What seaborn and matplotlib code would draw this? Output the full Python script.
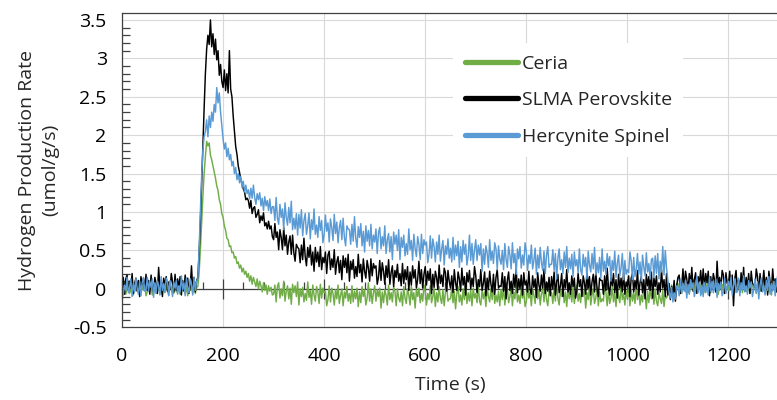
import numpy as np
import pandas as pd
import matplotlib
matplotlib.use("Agg")
import matplotlib.pyplot as plt
import seaborn as sns
from matplotlib.lines import Line2D
from matplotlib.ticker import MultipleLocator

# ---------------- data (one value every 2.5 s) ----------------
TIME_STEP = 2.5  # s

ceria = [
    # 0-147.5 s
    0.05, -0.03, 0.08, -0.07, 0.02, 0.06, -0.06, -0.01, 0.07, -0.08, 0.03, -0.02, 0.1, -0.05, 0.01, -0.06, 0.06, -0.02, 0.04, -0.09,
    -0.04, 0.07, -0.02, 0.03, -0.08, 0.06, 0.01, -0.06, 0.09, -0.02, 0.05, -0.07, 0.02, 0.06, -0.05, 0.08, -0.03, -0.08, 0.04, 0.02,
    0.02, -0.06, 0.06, -0.04, 0.1, -0.02, -0.07, 0.05, -0.01, 0.07, -0.06, 0.03, -0.09, 0.06, -0.02, 0.04, -0.05, 0.08, -0.06, 0.02,
    # 150-297.5 s
    0.03, 0.2, 0.5, 0.85, 1.2, 1.5, 1.72, 1.92, 1.86, 1.9, 1.74, 1.68, 1.6, 1.52, 1.44, 1.34, 1.28, 1.16, 1.1, 0.98,
    0.93, 0.82, 0.76, 0.66, 0.64, 0.55, 0.56, 0.47, 0.48, 0.4, 0.42, 0.33, 0.35, 0.27, 0.31, 0.22, 0.27, 0.19, 0.23, 0.15,
    0.2, 0.1, 0.17, 0.06, 0.15, 0.09, 0.03, 0.13, 0.0, 0.1, 0.04, -0.04, 0.08, -0.02, 0.05, -0.07, 0.04, -0.03, 0.02, -0.08,
    # 300-1047.5 s
    -0.07, 0.05, -0.17, 0.03, 0.08, -0.12, 0.0, -0.09, 0.1, -0.16, -0.03, 0.04, -0.13, 0.01, -0.2, 0.06, -0.05, 0.04, -0.1, 0.09,
    -0.21, 0.0, -0.1, 0.02, -0.17, -0.06, -0.15, 0.09, -0.11, -0.02, -0.2, 0.05, -0.08, -0.16, 0.03, -0.04, -0.19, 0.06, -0.12, 0.01,
    -0.05, -0.03, -0.22, -0.14, 0.04, -0.17, 0.01, -0.06, -0.21, -0.01, -0.13, 0.05, -0.19, -0.08, 0.0, -0.22, -0.04, -0.12, 0.03, -0.16,
    -0.06, -0.19, 0.04, -0.17, -0.03, -0.13, 0.01, -0.23, -0.04, -0.18, 0.03, -0.1, -0.01, -0.21, -0.12, 0.08, -0.16, 0.0, -0.19, -0.05,
    0.04, -0.16, -0.01, -0.1, 0.01, -0.25, -0.04, -0.18, -0.01, -0.08, -0.21, 0.05, -0.14, -0.05, -0.17, 0.03, -0.03, -0.22, 0.0, -0.12,
    -0.17, -0.04, -0.22, 0.03, -0.12, -0.19, 0.0, -0.08, -0.21, 0.04, -0.14, -0.05, -0.25, -0.01, -0.1, 0.01, -0.18, -0.06, -0.16, 0.05,
    -0.03, -0.21, -0.06, -0.14, 0.04, -0.18, -0.1, 0.01, -0.23, -0.05, -0.17, 0.03, -0.12, -0.19, -0.01, -0.22, -0.04, 0.04, -0.16, -0.13,
    -0.13, 0.01, -0.18, -0.03, -0.26, -0.06, 0.03, -0.17, -0.08, -0.21, 0.0, -0.14, 0.05, -0.19, -0.05, -0.16, -0.01, -0.22, 0.01, -0.12,
    -0.06, -0.18, 0.04, -0.16, -0.21, -0.01, -0.13, -0.04, -0.23, 0.03, -0.1, -0.17, 0.0, -0.14, 0.07, -0.19, -0.08, -0.17, -0.03, -0.22,
    -0.01, -0.14, 0.04, -0.21, -0.06, 0.01, -0.18, -0.1, 0.03, -0.22, -0.04, -0.13, 0.07, -0.17, -0.08, -0.19, 0.0, -0.12, -0.03, -0.23,
    -0.16, 0.03, -0.12, -0.04, -0.22, 0.0, -0.08, -0.19, 0.05, -0.13, -0.01, -0.21, -0.06, 0.01, -0.17, 0.04, -0.14, -0.22, -0.03, -0.05,
    -0.05, -0.19, 0.0, -0.16, 0.08, -0.12, -0.21, -0.01, -0.1, 0.03, -0.18, -0.04, -0.23, 0.01, -0.13, -0.03, -0.17, 0.04, -0.19, -0.06,
    0.05, -0.16, -0.06, -0.18, 0.01, -0.1, -0.01, -0.25, -0.05, -0.14, 0.04, -0.21, -0.08, 0.0, -0.19, -0.12, 0.03, -0.22, -0.04, -0.17,
    -0.13, -0.16, 0.04, -0.04, -0.22, -0.01, -0.19, -0.12, 0.03, -0.17, -0.05, -0.23, 0.01, -0.1, -0.18, 0.04, -0.14, -0.06, -0.21, -0.03,
    -0.12, 0.01, -0.22, -0.01, -0.16, -0.05, -0.19, 0.05, -0.14, 0.0, -0.21, -0.08, -0.17, 0.03, -0.06, -0.26, -0.03, -0.18, 0.01, -0.13,
    # 1050-1097.5 s
    -0.04, -0.2, 0.0, -0.16, -0.22, -0.05, -0.13, -0.19, -0.02, -0.23, -0.08, -0.12, -0.08, 0.03, -0.07, 0.05, -0.1, 0.01, -0.05, 0.06,
    # 1100-1300 s
    0.07, -0.01, 0.1, -0.05, 0.04, 0.08, -0.04, 0.01, 0.09, -0.06, 0.05, 0.0, 0.12, -0.03, 0.03, -0.04, 0.08, 0.0, 0.06, -0.07,
    0.04, -0.04, 0.08, -0.02, 0.12, 0.0, -0.05, 0.07, 0.01, 0.09, -0.04, 0.05, -0.07, 0.08, 0.0, 0.06, -0.03, 0.1, -0.04, 0.04,
    -0.02, 0.09, 0.0, 0.05, -0.06, 0.08, 0.03, -0.04, 0.11, 0.0, 0.07, -0.05, 0.04, 0.08, -0.03, 0.1, -0.01, -0.06, 0.06, 0.04,
    0.0, 0.08, -0.06, 0.06, 0.09, -0.03, 0.04, -0.01, 0.11, -0.05, 0.03, 0.07, -0.04, 0.05, -0.08, 0.08, 0.01, 0.07, -0.02, 0.1,
    0.03,
]

slma = [
    # 0-147.5 s
    0.03, 0.15, -0.07, 0.13, 0.18, -0.02, 0.1, 0.01, 0.2, -0.06, 0.07, 0.14, -0.03, 0.11, -0.1, 0.16, 0.05, 0.14, -0.01, 0.19,
    -0.02, 0.11, -0.07, 0.18, 0.03, -0.04, 0.15, 0.07, -0.06, 0.28, 0.01, 0.1, -0.1, 0.14, 0.05, 0.16, -0.03, 0.09, -0.01, 0.2,
    0.09, -0.04, 0.19, -0.02, 0.13, 0.02, 0.16, -0.08, 0.11, -0.03, 0.18, 0.05, 0.14, -0.06, 0.03, 0.3, -0.01, 0.15, -0.04, 0.1,
    # 150-297.5 s
    0.15, 0.45, 0.85, 1.35, 1.85, 2.35, 2.8, 3.12, 3.3, 3.18, 3.5, 3.15, 3.32, 3.05, 3.25, 2.98, 3.1, 2.78, 2.92, 2.7,
    2.62, 2.85, 2.58, 2.8, 2.55, 3.1, 2.6, 2.5, 2.25, 2.05, 1.85, 1.75, 1.6, 1.52, 1.42, 1.38, 1.3, 1.26, 1.16, 1.18,
    1.15, 1.05, 1.15, 0.98, 1.05, 1.07, 0.93, 0.97, 1.03, 0.86, 0.95, 0.89, 0.99, 0.82, 0.86, 0.78, 0.88, 0.78, 0.82, 0.68,
    # 300-1047.5 s
    0.64, 0.85, 0.67, 0.74, 0.51, 0.77, 0.67, 0.51, 0.8, 0.56, 0.7, 0.45, 0.61, 0.69, 0.45, 0.7, 0.47, 0.36, 0.58, 0.54,
    0.52, 0.34, 0.57, 0.38, 0.66, 0.42, 0.3, 0.54, 0.41, 0.57, 0.31, 0.48, 0.23, 0.54, 0.35, 0.48, 0.29, 0.55, 0.25, 0.41,
    0.34, 0.48, 0.2, 0.44, 0.49, 0.25, 0.39, 0.28, 0.51, 0.19, 0.35, 0.42, 0.21, 0.37, 0.12, 0.43, 0.28, 0.4, 0.21, 0.45,
    0.1, 0.36, 0.25, 0.38, 0.14, 0.29, 0.16, 0.45, 0.21, 0.32, 0.09, 0.39, 0.23, 0.14, 0.37, 0.27, 0.1, 0.39, 0.17, 0.33,
    0.27, 0.3, 0.06, 0.15, 0.37, 0.11, 0.34, 0.23, 0.06, 0.3, 0.15, 0.38, 0.06, 0.21, 0.3, 0.03, 0.24, 0.15, 0.32, 0.1,
    0.2, 0.04, 0.33, 0.07, 0.25, 0.12, 0.29, -0.02, 0.22, 0.05, 0.3, 0.14, 0.25, 0.01, 0.12, 0.36, 0.07, 0.25, 0.01, 0.19,
    0.29, 0.05, 0.23, 0.11, 0.26, -0.06, 0.19, 0.02, 0.23, 0.15, -0.01, 0.31, 0.07, 0.18, 0.03, 0.27, 0.21, -0.03, 0.24, 0.1,
    0.01, 0.17, -0.05, 0.25, 0.08, -0.02, 0.22, 0.13, -0.03, 0.27, 0.05, 0.16, -0.08, 0.21, 0.09, 0.24, 0.0, 0.14, 0.03, 0.29,
    0.17, -0.05, 0.12, 0.03, 0.25, -0.02, 0.07, 0.22, -0.09, 0.14, -0.01, 0.23, 0.06, -0.04, 0.19, -0.07, 0.15, 0.25, 0.01, 0.04,
    0.03, 0.21, -0.03, 0.16, -0.13, 0.11, 0.22, -0.02, 0.1, -0.06, 0.19, 0.02, 0.26, -0.05, 0.13, 0.0, 0.18, -0.08, 0.21, 0.05,
    0.1, -0.04, 0.23, -0.01, -0.07, 0.17, 0.02, 0.13, -0.11, 0.21, 0.05, -0.03, 0.18, 0.01, 0.26, -0.06, 0.09, -0.03, 0.15, -0.09,
    0.16, 0.0, 0.22, -0.08, 0.09, 0.19, -0.05, 0.04, 0.2, -0.1, 0.12, 0.01, 0.25, -0.04, 0.08, -0.07, 0.17, 0.03, 0.14, -0.12,
    -0.02, 0.2, 0.03, 0.12, -0.1, 0.17, 0.08, -0.07, 0.24, 0.01, 0.16, -0.08, 0.09, 0.19, -0.04, 0.22, 0.0, -0.1, 0.14, 0.11,
    0.11, -0.07, 0.17, -0.02, 0.27, 0.03, -0.08, 0.16, 0.04, 0.2, -0.05, 0.12, -0.12, 0.19, 0.01, 0.14, -0.04, 0.22, -0.07, 0.09,
    0.03, 0.17, -0.1, 0.14, 0.2, -0.04, 0.11, 0.0, 0.24, -0.08, 0.08, 0.16, -0.05, 0.12, -0.13, 0.19, 0.04, 0.16, -0.02, 0.22,
    # 1050-1097.5 s
    -0.12, 0.14, 0.03, 0.17, -0.07, 0.08, -0.04, 0.25, 0.01, 0.12, -0.1, 0.2, -0.08, 0.07, -0.14, 0.03, -0.06, 0.11, -0.16, 0.04,
    # 1100-1300 s
    0.15, 0.18, -0.06, 0.04, 0.26, 0.0, 0.23, 0.13, -0.04, 0.2, 0.05, 0.28, -0.03, 0.12, 0.21, -0.06, 0.16, 0.07, 0.24, 0.02,
    0.26, 0.02, 0.2, 0.08, 0.23, -0.09, 0.16, -0.01, 0.2, 0.12, -0.04, 0.36, 0.04, 0.15, 0.0, 0.24, 0.18, -0.06, 0.21, 0.07,
    0.05, 0.23, -0.01, 0.18, -0.22, 0.13, 0.24, 0.0, 0.12, -0.04, 0.21, 0.04, 0.28, -0.03, 0.15, 0.02, 0.2, -0.06, 0.23, 0.07,
    0.05, 0.02, 0.26, 0.16, -0.06, 0.2, -0.03, 0.07, 0.24, 0.0, 0.15, -0.08, 0.23, 0.08, -0.01, 0.26, 0.04, 0.13, -0.04, 0.18,
    0.1,
]

hercynite = [
    # 0-147.5 s
    0.09, -0.08, 0.05, -0.02, 0.15, -0.05, 0.02, 0.13, -0.1, 0.07, -0.04, 0.14, 0.01, -0.07, 0.1, -0.09, 0.08, 0.15, -0.03, -0.01,
    0.15, -0.03, 0.1, 0.02, 0.13, -0.11, 0.08, -0.05, 0.1, 0.04, -0.08, 0.16, -0.02, 0.07, -0.04, 0.14, 0.09, -0.09, 0.11, 0.01,
    -0.1, 0.09, 0.01, 0.11, -0.07, 0.04, -0.04, 0.17, -0.01, 0.08, -0.09, 0.14, 0.02, -0.05, 0.13, 0.05, -0.08, 0.15, -0.02, 0.1,
    # 150-297.5 s
    0.12, 0.5, 1.0, 1.45, 1.8, 1.98, 2.05, 2.2, 1.98, 2.25, 2.1, 2.3, 2.18, 2.4, 2.3, 2.62, 2.42, 2.55, 2.3, 2.12,
    1.95, 1.82, 1.9, 1.72, 1.83, 1.68, 1.75, 1.6, 1.66, 1.5, 1.58, 1.42, 1.5, 1.38, 1.46, 1.32, 1.4, 1.26, 1.35, 1.24,
    1.29, 1.17, 1.31, 1.18, 1.35, 1.19, 1.1, 1.24, 1.16, 1.25, 1.08, 1.18, 1.02, 1.2, 1.08, 1.15, 1.02, 1.17, 0.98, 1.07,
    # 300-1047.5 s
    1.07, 0.89, 1.19, 0.92, 0.84, 1.1, 0.93, 1.04, 0.77, 1.12, 0.93, 0.83, 1.06, 0.86, 1.14, 0.77, 0.92, 0.78, 0.98, 0.7,
    0.97, 0.79, 1.03, 0.69, 0.89, 0.98, 0.71, 0.82, 0.99, 0.65, 0.9, 0.77, 1.04, 0.71, 0.83, 0.67, 0.94, 0.76, 0.89, 0.6,
    0.71, 0.96, 0.75, 0.86, 0.61, 0.91, 0.8, 0.63, 0.97, 0.72, 0.87, 0.6, 0.8, 0.89, 0.64, 0.92, 0.67, 0.56, 0.82, 0.78,
    0.77, 0.58, 0.84, 0.62, 0.94, 0.66, 0.54, 0.81, 0.67, 0.85, 0.56, 0.75, 0.48, 0.82, 0.62, 0.76, 0.56, 0.84, 0.52, 0.7,
    0.61, 0.78, 0.46, 0.73, 0.8, 0.52, 0.68, 0.56, 0.82, 0.46, 0.64, 0.72, 0.48, 0.68, 0.38, 0.74, 0.58, 0.7, 0.5, 0.77,
    0.38, 0.67, 0.54, 0.7, 0.43, 0.59, 0.45, 0.78, 0.51, 0.63, 0.37, 0.71, 0.53, 0.42, 0.68, 0.58, 0.38, 0.71, 0.46, 0.64,
    0.57, 0.61, 0.34, 0.45, 0.69, 0.4, 0.65, 0.55, 0.35, 0.61, 0.45, 0.7, 0.36, 0.52, 0.63, 0.31, 0.56, 0.45, 0.65, 0.4,
    0.53, 0.35, 0.67, 0.38, 0.57, 0.43, 0.62, 0.28, 0.55, 0.35, 0.63, 0.45, 0.58, 0.31, 0.43, 0.7, 0.37, 0.59, 0.32, 0.51,
    0.64, 0.37, 0.57, 0.44, 0.59, 0.23, 0.52, 0.32, 0.56, 0.47, 0.28, 0.64, 0.37, 0.49, 0.33, 0.6, 0.52, 0.25, 0.56, 0.39,
    0.32, 0.5, 0.25, 0.59, 0.38, 0.28, 0.55, 0.44, 0.26, 0.6, 0.34, 0.46, 0.19, 0.52, 0.39, 0.55, 0.27, 0.44, 0.31, 0.6,
    0.49, 0.24, 0.44, 0.33, 0.57, 0.26, 0.37, 0.53, 0.19, 0.44, 0.27, 0.54, 0.34, 0.24, 0.49, 0.2, 0.44, 0.55, 0.28, 0.32,
    0.32, 0.51, 0.24, 0.46, 0.13, 0.4, 0.52, 0.25, 0.38, 0.2, 0.48, 0.28, 0.55, 0.21, 0.4, 0.26, 0.45, 0.16, 0.48, 0.3,
    0.38, 0.21, 0.52, 0.25, 0.18, 0.45, 0.29, 0.41, 0.13, 0.49, 0.31, 0.22, 0.46, 0.26, 0.54, 0.18, 0.34, 0.21, 0.41, 0.14,
    0.52, 0.23, 0.36, 0.19, 0.46, 0.3, 0.42, 0.1, 0.37, 0.24, 0.49, 0.15, 0.33, 0.44, 0.17, 0.27, 0.46, 0.12, 0.37, 0.19,
    0.25, 0.21, 0.48, 0.37, 0.12, 0.41, 0.16, 0.26, 0.46, 0.19, 0.35, 0.1, 0.44, 0.28, 0.17, 0.47, 0.22, 0.33, 0.13, 0.38,
    # 1050-1097.5 s
    0.4, 0.15, 0.43, 0.2, 0.46, 0.13, 0.36, 0.22, 0.55, 0.18, 0.5, 0.27, 0.12, -0.04, -0.12, 0.02, -0.17, -0.05, -0.13, 0.04,
    # 1100-1300 s
    0.03, -0.09, 0.13, -0.06, 0.07, -0.03, 0.11, -0.12, 0.06, -0.07, 0.12, 0.0, 0.08, -0.1, -0.01, 0.17, -0.05, 0.09, -0.09, 0.05,
    -0.1, 0.08, -0.05, 0.03, -0.08, 0.16, -0.03, 0.1, -0.05, 0.01, 0.13, -0.11, 0.07, -0.02, 0.09, -0.09, -0.04, 0.14, -0.06, 0.04,
    0.1, -0.02, 0.15, -0.08, 0.05, 0.13, -0.05, 0.02, 0.14, -0.09, 0.08, -0.01, 0.17, -0.04, 0.04, -0.07, 0.11, 0.01, 0.09, -0.1,
    -0.01, 0.13, -0.05, 0.09, -0.13, 0.05, 0.14, -0.04, 0.04, -0.08, 0.11, -0.02, 0.16, -0.07, 0.07, -0.03, 0.1, -0.09, 0.13, 0.01,
    0.04,
]

series_names = ["Ceria", "SLMA Perovskite", "Hercynite Spinel"]
series_values = [ceria, slma, hercynite]
series_colors = ["#70AD47", "#000000", "#5B9BD5"]
x_ticks = [0, 200, 400, 600, 800, 1000, 1200]
y_ticks = [-0.5, 0, 0.5, 1, 1.5, 2, 2.5, 3, 3.5]
y_tick_labels = ["-0.5", "0", "0.5", "1", "1.5", "2", "2.5", "3", "3.5"]
x_label = "Time (s)"
y_label = "Hydrogen Production Rate\n(umol/g/s)"

# ---------------- build long table ----------------
frames = []
for name, vals in zip(series_names, series_values):
    frames.append(pd.DataFrame({
        "Time": np.arange(len(vals)) * TIME_STEP,
        "Rate": vals,
        "Material": name,
    }))
df = pd.concat(frames, ignore_index=True)

# ---------------- style ----------------
sns.set_style("white")
plt.rcParams["font.family"] = ["Open Sans", "DejaVu Sans"]
AX_COLOR = "#404040"
FS = 14

W, H = 777, 400
fig = plt.figure(figsize=(W / 100, H / 100), dpi=100)
left_px, right_px, top_px, bottom_px = 122, 779, 13.3, 327.3
ax = fig.add_axes([left_px / W, (H - bottom_px) / H,
                   (right_px - left_px) / W, (bottom_px - top_px) / H])

sns.lineplot(data=df, x="Time", y="Rate", hue="Material",
             hue_order=series_names, palette=series_colors,
             estimator=None, linewidth=1.05, legend=False, ax=ax, zorder=2)

ymin, ymax = -0.5, 3.586
ax.set_xlim(0, 1300)
ax.set_ylim(ymin, ymax)
ax.set_xticks(x_ticks)
ax.set_xticklabels([str(v) for v in x_ticks])
ax.set_yticks(y_ticks)
ax.set_yticklabels(y_tick_labels)
ax.yaxis.set_minor_locator(MultipleLocator(0.1))

ax.grid(True, which="major", color="#D9D9D9", linewidth=0.8)
ax.set_axisbelow(True)

ax.tick_params(axis="y", which="major", direction="inout", length=14,
               width=0.9, color=AX_COLOR, pad=4, labelsize=FS, labelcolor="#000000")
ax.tick_params(axis="y", which="minor", direction="in", length=6,
               width=0.9, color=AX_COLOR, left=True)
ax.tick_params(axis="x", which="major", length=0, pad=14, labelsize=FS,
               labelcolor="#000000")

for side in ["left", "bottom", "top"]:
    ax.spines[side].set_color(AX_COLOR)
    ax.spines[side].set_linewidth(0.9)
ax.spines["right"].set_visible(False)

# horizontal axis line crossing at y = 0
zero_loc = (0 - ymin) / (ymax - ymin)
sec = ax.secondary_xaxis(zero_loc)
sec.set_xticks(x_ticks)
sec.xaxis.set_minor_locator(MultipleLocator(40))
sec.tick_params(which="major", direction="inout", length=14, width=0.9,
                color=AX_COLOR, labelbottom=False)
sec.tick_params(which="minor", direction="in", length=5, width=0.9,
                color=AX_COLOR)
sec.spines["bottom"].set_color(AX_COLOR)
sec.spines["bottom"].set_linewidth(0.9)
sec.set_zorder(1)

ax.set_xlabel(x_label, fontsize=FS)
ax.xaxis.set_label_coords(0.5, -0.155)
ax.set_ylabel(y_label, fontsize=FS, linespacing=1.4)
ax.yaxis.set_label_coords(-0.095, 0.5)

handles = [Line2D([], [], color=c, lw=3.8, solid_capstyle="round") for c in series_colors]
leg = ax.legend(handles, series_names, loc="upper left",
                bbox_to_anchor=(453 / W, 1 - 43 / H), bbox_transform=fig.transFigure,
                fontsize=FS, frameon=True, fancybox=False, handlelength=2.73,
                handletextpad=0.2, labelspacing=0.95, borderpad=0.6, borderaxespad=0)
leg.get_frame().set_facecolor("white")
leg.get_frame().set_edgecolor("none")
leg.get_frame().set_alpha(1)

fig.savefig("out.png", dpi=100)
